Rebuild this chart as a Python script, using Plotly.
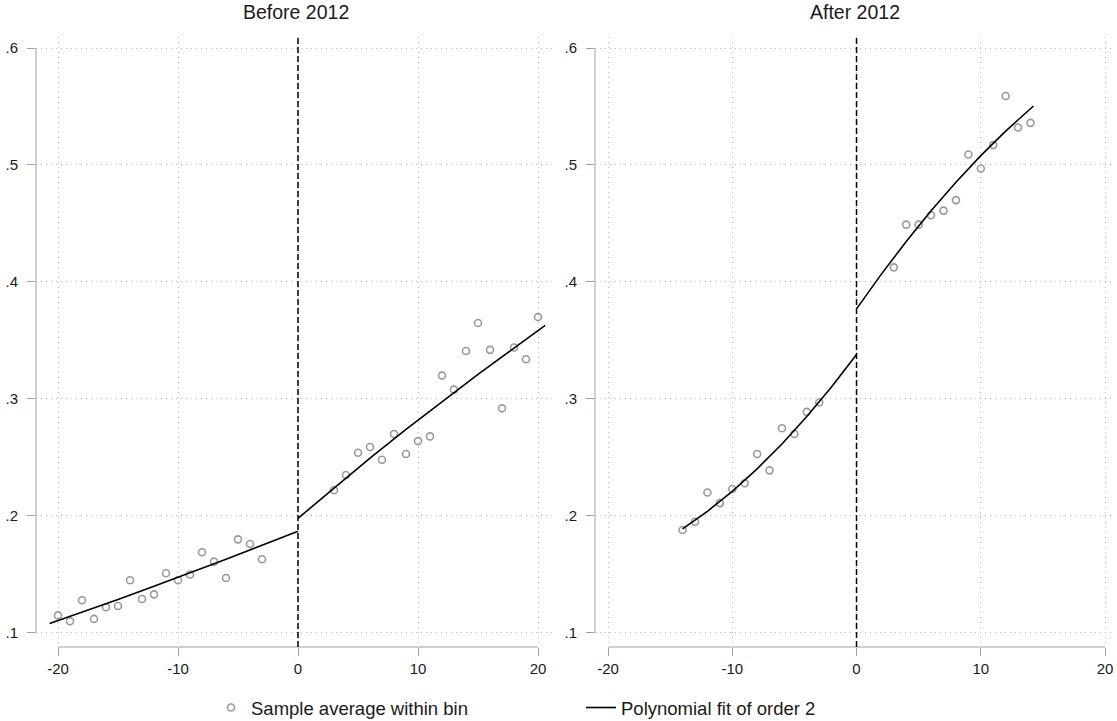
import plotly.graph_objects as go

# ---------------- data ----------------
# Panel 1: Before 2012 (bin averages)
before_x_left = [-20, -19, -18, -17, -16, -15, -14, -13, -12, -11, -10, -9, -8, -7, -6, -5, -4, -3]
before_y_left = [0.115, 0.110, 0.128, 0.112, 0.122, 0.123, 0.145, 0.129, 0.133, 0.151, 0.145, 0.150,
                 0.169, 0.161, 0.147, 0.180, 0.176, 0.163]
before_x_right = [3, 4, 5, 6, 7, 8, 9, 10, 11, 12, 13, 14, 15, 16, 17, 18, 19, 20]
before_y_right = [0.222, 0.235, 0.254, 0.259, 0.248, 0.270, 0.253, 0.264, 0.268, 0.320, 0.308,
                  0.341, 0.365, 0.342, 0.292, 0.344, 0.334, 0.370]
# polynomial fit
before_fit_x_left = [-20.7, -18, -15, -12, -9, -6, -3, 0]
before_fit_y_left = [0.108, 0.1177, 0.1287, 0.140, 0.1514, 0.163, 0.1749, 0.187]
before_fit_x_right = [0, 3, 6, 9, 12, 15, 18, 20.6]
before_fit_y_right = [0.198, 0.224, 0.2494, 0.274, 0.2978, 0.321, 0.3434, 0.363]

# Panel 2: After 2012
after_x_left = [-14, -13, -12, -11, -10, -9, -8, -7, -6, -5, -4, -3]
after_y_left = [0.188, 0.195, 0.220, 0.211, 0.223, 0.228, 0.253, 0.239, 0.275, 0.270, 0.289, 0.297]
after_x_right = [3, 4, 5, 6, 7, 8, 9, 10, 11, 12, 13, 14]
after_y_right = [0.4125, 0.449, 0.449, 0.457, 0.461, 0.470, 0.509, 0.497, 0.517, 0.559, 0.532, 0.536]
after_fit_x_left = [-14, -12, -10, -8, -6, -4, -2, 0]
after_fit_y_left = [0.189, 0.204, 0.221, 0.2403, 0.2615, 0.285, 0.3104, 0.338]
after_fit_x_right = [0, 2, 4, 6, 8, 10, 12, 14.24]
after_fit_y_right = [0.377, 0.4067, 0.4346, 0.4608, 0.4853, 0.508, 0.529, 0.5504]

panel_titles = ["Before 2012", "After 2012"]
x_ticks = [-20, -10, 0, 10, 20]
x_tick_text = ["-20", "-10", "0", "10", "20"]
y_ticks = [0.1, 0.2, 0.3, 0.4, 0.5, 0.6]
y_tick_text = [".1", ".2", ".3", ".4", ".5", ".6"]
legend_names = ["Sample average within bin", "Polynomial fit of order 2"]

# ---------------- style ----------------
FONT = "Liberation Sans, Arial, sans-serif"
MARKER_COLOR = "#9a9a9a"
AXIS_COLOR = "#a0a0a0"
GRID_COLOR = "#b8b8b8"
TEXT_COLOR = "#1a1a1a"

W, H = 1117, 721
left_dom = [36 / W, 556 / W]
right_dom = [595 / W, 1115 / W]
y_dom = [(H - 647) / H, (H - 37) / H]
y_range = [0.088, 0.6094]

fig = go.Figure()

def add_panel(xa, ya, xl, yl, xr, yr, fxl, fyl, fxr, fyr, show_legend):
    fig.add_trace(go.Scatter(x=xl + xr, y=yl + yr, mode="markers", xaxis=xa, yaxis=ya,
                             name=legend_names[0], showlegend=show_legend, legendrank=1,
                             marker=dict(symbol="circle-open", size=7, color=MARKER_COLOR,
                                         line=dict(width=1.6, color=MARKER_COLOR))))
    fig.add_trace(go.Scatter(x=fxl, y=fyl, mode="lines", xaxis=xa, yaxis=ya,
                             name=legend_names[1], showlegend=show_legend, legendrank=2,
                             line=dict(color="black", width=1.6)))
    fig.add_trace(go.Scatter(x=fxr, y=fyr, mode="lines", xaxis=xa, yaxis=ya,
                             name=legend_names[1], showlegend=False,
                             line=dict(color="black", width=1.6)))

add_panel("x", "y", before_x_left, before_y_left, before_x_right, before_y_right,
          before_fit_x_left, before_fit_y_left, before_fit_x_right, before_fit_y_right, True)
add_panel("x2", "y2", after_x_left, after_y_left, after_x_right, after_y_right,
          after_fit_x_left, after_fit_y_left, after_fit_x_right, after_fit_y_right, False)

xaxis_common = dict(tickvals=x_ticks, ticktext=x_tick_text, ticks="outside", ticklen=8,
                    tickcolor=AXIS_COLOR, tickwidth=1, showline=False, zeroline=False,
                    showgrid=True, gridcolor=GRID_COLOR, griddash="1px,4px", gridwidth=1,
                    automargin=False, ticklabelstandoff=0,
                    tickfont=dict(family=FONT, size=15, color=TEXT_COLOR))
yaxis_common = dict(tickvals=y_ticks, ticktext=y_tick_text, range=y_range, domain=y_dom,
                    ticks="outside", ticklen=8, tickcolor=AXIS_COLOR, tickwidth=1,
                    showline=False, zeroline=False, showgrid=True,
                    gridcolor=GRID_COLOR, griddash="1px,4px", gridwidth=1,
                    automargin=False, ticklabelstandoff=6,
                    tickfont=dict(family=FONT, size=15, color=TEXT_COLOR))

fig.update_layout(
    width=W, height=H,
    margin=dict(l=0, r=0, t=0, b=0, autoexpand=False),
    paper_bgcolor="white", plot_bgcolor="white",
    font=dict(family=FONT, color=TEXT_COLOR),
    xaxis=dict(domain=left_dom, range=[-21.833, 21.5], anchor="y", **xaxis_common),
    yaxis=dict(anchor="x", **yaxis_common),
    xaxis2=dict(domain=right_dom, range=[-21.046, 20.80], anchor="y2", **xaxis_common),
    yaxis2=dict(anchor="x2", **yaxis_common),
    showlegend=True,
    legend=dict(orientation="h", x=211 / W, xanchor="left", y=(H - 708) / H, yanchor="middle",
                font=dict(family=FONT, size=18.5, color=TEXT_COLOR),
                entrywidth=325, entrywidthmode="pixels", bgcolor="rgba(0,0,0,0)"),
)

shapes = []
for xa, ya, xd in [("x", "y", left_dom), ("x2", "y2", right_dom)]:
    # y axis line from first to last tick
    shapes.append(dict(type="line", xref=f"{xa} domain", yref=ya, x0=0, x1=0,
                       y0=y_ticks[0], y1=y_ticks[-1], line=dict(color=AXIS_COLOR, width=1)))
    # x axis line from first to last tick
    shapes.append(dict(type="line", xref=xa, yref=f"{ya} domain", x0=x_ticks[0], x1=x_ticks[-1],
                       y0=0, y1=0, line=dict(color=AXIS_COLOR, width=1)))
    # cutoff dashed line
    shapes.append(dict(type="line", xref=xa, yref=f"{ya} domain", x0=0, x1=0, y0=0, y1=1,
                       line=dict(color="black", width=1.5, dash="6px,3px")))
fig.update_layout(shapes=shapes)

annotations = []
for title, xd in zip(panel_titles, [left_dom, right_dom]):
    annotations.append(dict(text=title, xref="paper", yref="paper", x=(xd[0] + xd[1]) / 2,
                            y=(H - 12) / H, xanchor="center", yanchor="middle", showarrow=False,
                            font=dict(family=FONT, size=19.5, color=TEXT_COLOR)))
fig.update_layout(annotations=annotations)

# remove the default page margin so the figure sits at the window's top-left corner
fig.write_html("out.html", config={"displayModeBar": False},
               post_script="document.body.style.margin='0';")
